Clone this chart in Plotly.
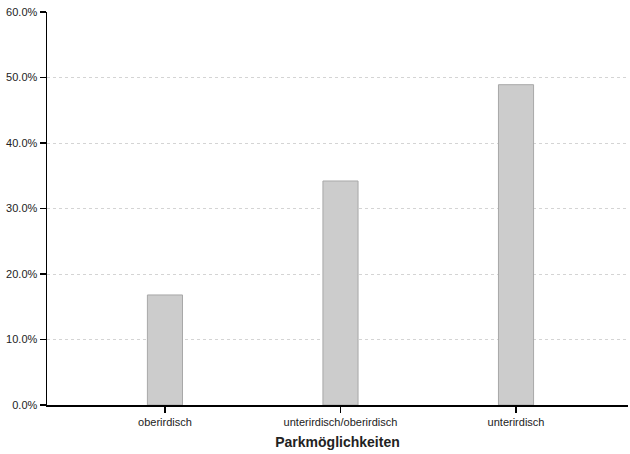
import plotly.graph_objects as go

categories = ["oberirdisch", "unterirdisch/oberirdisch", "unterirdisch"]
values = [0.168, 0.342, 0.489]
y_ticks = [0, 0.1, 0.2, 0.3, 0.4, 0.5, 0.6]

fig = go.Figure()
fig.add_trace(go.Bar(
    x=categories, y=values, width=0.2,
    marker=dict(color="#cccccc", line=dict(color="#a8a8a8", width=1)),
    hoverinfo="skip",
))
fig.update_layout(
    width=630, height=454,
    margin=dict(l=47, r=2, t=12, b=49),
    paper_bgcolor="white", plot_bgcolor="white",
    font=dict(family="Liberation Sans, Arial, sans-serif", size=11, color="#222"),
    showlegend=False,
    xaxis=dict(
        range=[-0.672, 2.638], showline=True, linecolor="black", linewidth=1.5,
        ticks="outside", ticklen=6, tickcolor="black", tickwidth=1.5,
        showgrid=False, tickfont=dict(size=11, color="#222"),
        title=dict(text="<b>Parkmöglichkeiten</b>", font=dict(size=14, color="#222"), standoff=10),
    ),
    yaxis=dict(
        range=[0, 0.6], tickvals=y_ticks, tickformat=".1%",
        showline=True, linecolor="black", linewidth=1.5,
        ticks="outside", ticklen=6, tickcolor="black", tickwidth=1.5,
        showgrid=True, gridcolor="#d4d4d4", griddash="3px,3px", gridwidth=1,
        zeroline=False, tickfont=dict(size=11, color="#222"),
    ),
)
fig.write_html(
    "out.html",
    config={"displayModeBar": False, "staticPlot": True},
    post_script="document.body.style.margin='0';document.body.style.overflow='hidden';",
)
